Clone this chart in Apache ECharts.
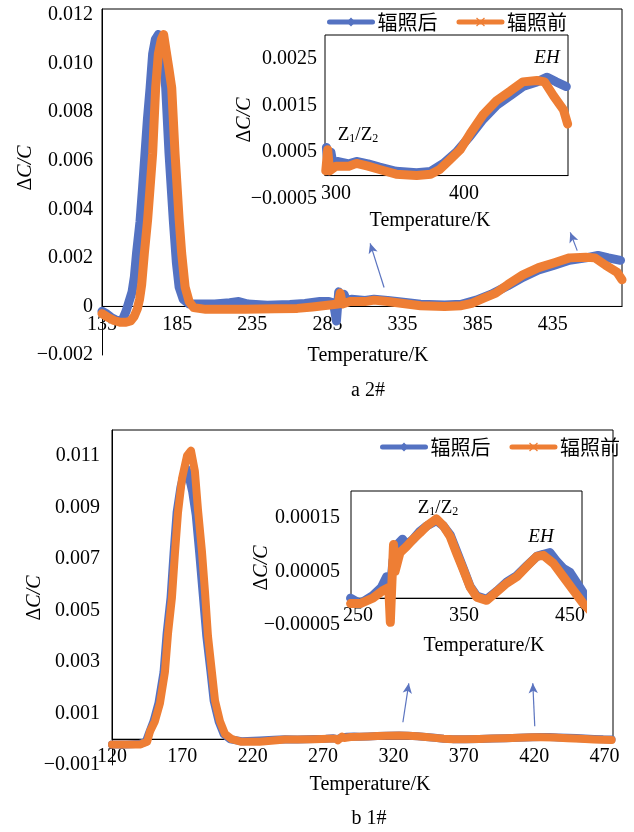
<!DOCTYPE html>
<html>
<head>
<meta charset="utf-8">
<title>ΔC/C - Temperature</title>
<style>
  html, body { margin: 0; padding: 0; background: #fff; }
  #main { width: 634px; height: 832px; }
</style>
<script src="https://cdn.jsdelivr.net/npm/echarts@6/dist/echarts.min.js"></script>
</head>
<body>
<div id="main"></div>
<script>
// ---- data: sample 2# (panel a) ----
var a2TempAfter = [135,138,141,144,147,149,151,153,155,156.5,158,160.3,162,163.6,165.2,167,168.7,170.5,172.5,174,175.5,177.4,179.6,182.5,184.5,186.3,189,193,200,210,220,226,232,245,260,270,280,286,289,291,292.5,294,296,298,301,310,316,325,334,347,363,374,384,394,405,415,425.5,436,446,457,465,472,480];
var a2After = [-0.0002,-0.0003,-0.00045,-0.00055,-0.0006,-0.0005,-0.0002,0.0002,0.0006,0.0012,0.0022,0.0035,0.0049,0.0063,0.0077,0.009,0.0104,0.011,0.0112,0.0108,0.0103,0.009,0.0063,0.0035,0.0018,0.0008,0.0003,0.0001,0.0001,0.0001,0.00015,0.0002,0.0001,0.00005,0.00008,0.00012,0.0002,0.0002,0.00015,-0.0006,0.0006,0.0001,0.0005,0.0002,0.0003,0.00025,0.0003,0.00025,0.00018,0.00009,0.00006,0.00009,0.00026,0.0005,0.00085,0.0012,0.0015,0.0017,0.0019,0.002,0.0021,0.002,0.0019];
var a2TempBefore = [135,139,143,147,151,154,156.5,158.5,160,161.4,163.2,165.4,167,168.7,170.7,172.5,174.5,176,177.5,179.5,181.4,183.6,186.3,188,190.3,193,196,204,215,230,250,265,275,285,292,293.5,295,300,310,316,325,334,347,363,374,381,389,397,405,415,425.5,436,446,457,463,470,477.8,481];
var a2Before = [-0.0003,-0.00045,-0.00058,-0.00065,-0.00065,-0.0006,-0.0004,-0.0001,0.0003,0.0009,0.0022,0.0036,0.0049,0.0063,0.009,0.0104,0.011,0.0112,0.0106,0.0098,0.009,0.0063,0.0036,0.0022,0.0008,0.0002,-0.00005,-0.00012,-0.00012,-0.00012,-0.0001,-0.00008,-0.00002,0.00005,0.0001,0.00055,0.0001,0.0002,0.0002,0.00026,0.0002,0.00013,0.00003,0,0.00003,0.00013,0.00034,0.00055,0.0009,0.0013,0.0016,0.0018,0.002,0.00203,0.002,0.0017,0.0014,0.0011];

// ---- data: sample 1# (panel b) ----
var b1TempAfter = [120,130,140,144,146,149.5,153,156.6,158.8,161.6,163.7,165.9,168.7,171.5,173,174.5,177,179.5,182,184.5,187,190,192.2,195.7,199.3,204,212,225,235,243,252,264,272,277,280,283,287,292,296,302,308.5,315,324,330.5,337,343,349.4,355.7,362,371.4,380.8,390.3,399.7,409,418.6,424.8,431,437,444,450,456,462.5,469,475];
var b1After = [-0.0002,-0.0002,-0.00018,-0.0001,0.0002,0.0007,0.0014,0.0026,0.0041,0.0055,0.0072,0.0088,0.0098,0.0104,0.0105,0.0102,0.0096,0.0087,0.0072,0.0056,0.004,0.0026,0.0015,0.0007,0.0002,0,-0.00008,-0.00005,-0.00002,0,-0.00001,0.000005,0.00002,0.00004,0.000005,0.00007,0.0001,0.00011,0.0001,0.00011,0.000125,0.000135,0.000145,0.000135,0.000118,0.000088,0.000055,0.000022,0.000004,-0.000002,0.000013,0.00003,0.000042,0.00006,0.000078,0.000082,0.000085,0.00007,0.000055,0.000048,0.00003,0.00001,-0.000005,-0.00001];
var b1TempBefore = [120,130,140,145,147,150.5,154.1,157.6,159.8,162.6,164.7,166.9,169.7,173.3,176.1,178.9,181.1,183.9,186.1,188.2,191,193.2,196.7,200.3,205.2,212,225,235,243,252,264,274,279,280.5,282,283.5,285,289.6,296,302,308.5,315,324,330.5,337,343,349.4,355.7,362,371.4,380.8,390.3,399.7,409,418.6,424.8,434.3,443.7,453,462.5,469,475];
var b1Before = [-0.0002,-0.0002,-0.0002,-0.0001,0.0003,0.0007,0.0014,0.0026,0.0041,0.0055,0.0072,0.0088,0.0101,0.011,0.0112,0.0104,0.0089,0.0073,0.0057,0.004,0.0026,0.0015,0.0007,0.0002,0,-0.0001,-0.0001,-0.00005,-0.00001,-0.00001,0,0.000015,0.00002,-0.000045,0.00003,0.0001,0.00005,0.000085,0.000097,0.00011,0.000122,0.000135,0.000148,0.000135,0.000115,0.000084,0.000053,0.000021,0.000002,-0.000004,0.000012,0.000028,0.00004,0.000059,0.000078,0.00008,0.000065,0.00004,0.000015,-0.00001,-0.000023,-0.00003];

// ---- tick labels ----
var a2XTicks = [135,185,235,285,335,385,435];
var a2YTicks = [-0.002,0,0.002,0.004,0.006,0.008,0.010,0.012];
var a2InsetXTicks = [300,400];
var a2InsetYTicks = [-0.0005,0.0005,0.0015,0.0025];
var b1XTicks = [120,170,220,270,320,370,420,470];
var b1YTicks = [-0.001,0.001,0.003,0.005,0.007,0.009,0.011];
var b1InsetXTicks = [250,350,450];
var b1InsetYTicks = [-0.00005,0.00005,0.00015];

// arrows pointing from the main curves to the insets [fromT, fromV, toT, toV]
var a2Arrows = [[322.7,0.00078,313.4,0.0026],[451.2,0.0023,446.6,0.00305]];
var b1Arrows = [[326.7,0.00066,330.9,0.00217],[420.4,0.0005,419,0.00217]];

var BLUE = '#5472c2';
var ORANGE = '#ee7e34';
var FONT = 'Liberation Serif';
var CJK = 'Noto Sans CJK SC';
var XMARK = 'path://M0,1L1,0L5,4L9,0L10,1L6,5L10,9L9,10L5,6L1,10L0,9L4,5Z';

function pairs(ts, vs) { return ts.map(function (t, i) { return [t, vs[i]]; }); }
function within(d, lo, hi) { return d.filter(function (p) { return p[0] >= lo && p[0] <= hi; }); }
function fmt(dec) {
  return function (v) {
    if (Math.abs(v) < 1e-12) return '0';
    return (v < 0 ? '\u2212' : '') + Math.abs(v).toFixed(dec);
  };
}

// grids (pixel boxes) and axis ranges
var grids = [
  { left: 102, top: 9,   width: 520, height: 346 },
  { left: 325, top: 35,  width: 243, height: 164 },
  { left: 112, top: 430, width: 501, height: 335 },
  { left: 351, top: 491, width: 231, height: 134 }
];
var ax = [
  { x: [135, 481],     y: [-0.002, 0.01225] },
  { x: [291.4, 481.3], y: [-0.0005, 0.003] },
  { x: [120, 476],     y: [-0.001, 0.012] },
  { x: [243.4, 461.3], y: [-0.00005, 0.0002] }
];

// the x axis is drawn on the zero line, labels just below it
function xAxis(i, ticks) {
  var r = ax[i];
  var zeroUp = grids[i].height * (0 - r.y[0]) / (r.y[1] - r.y[0]);
  return {
    type: 'value', gridIndex: i, min: r.x[0], max: r.x[1], offset: -zeroUp,
    axisLine: { show: true, onZero: false, lineStyle: { color: '#000', width: 1 } },
    axisTick: { show: false }, splitLine: { show: false },
    axisLabel: { customValues: ticks, margin: 8, color: '#000', fontFamily: FONT, fontSize: 20 }
  };
}
function yAxis(i, ticks, dec, showLine, margin) {
  var r = ax[i];
  return {
    type: 'value', gridIndex: i, min: r.y[0], max: r.y[1],
    axisLine: { show: showLine, onZero: false, lineStyle: { color: '#000', width: 1 } },
    axisTick: { show: false }, splitLine: { show: false },
    axisLabel: { customValues: ticks, formatter: fmt(dec), margin: margin, color: '#000', fontFamily: FONT, fontSize: 20 }
  };
}
function frame(r) {
  return {
    silent: true,
    itemStyle: { color: 'rgba(0,0,0,0)', borderColor: '#000', borderWidth: 1 },
    data: [[{ coord: [r.x[0], 0] }, { coord: [r.x[1], r.y[1]] }]]
  };
}
function arrows(list) {
  return {
    silent: true, symbol: ['none', 'arrow'], symbolSize: [7, 10], label: { show: false },
    lineStyle: { color: '#5b74c0', width: 1.2, type: 'solid' },
    data: list.map(function (a) { return [{ coord: [a[0], a[1]] }, { coord: [a[2], a[3]] }]; })
  };
}
function line(name, grid, data, color, width, extra) {
  var s = {
    name: name, type: 'line', xAxisIndex: grid, yAxisIndex: grid, data: data,
    showSymbol: false, symbol: name === '辐照后' ? 'diamond' : XMARK,
    symbolSize: name === '辐照后' ? 11 : 8,
    itemStyle: { color: color },
    lineStyle: { color: color, width: width, join: 'round', cap: 'round' },
    clip: false, animation: false
  };
  for (var k in extra) s[k] = extra[k];
  return s;
}

var yTitle = '{d|Δ}{c|C/C}';
var yTitleRich = {
  d: { fontFamily: FONT, fontSize: 20, fill: '#000' },
  c: { fontFamily: FONT, fontSize: 20, fontStyle: 'italic', fill: '#000' }
};
var zRich = {
  z: { fontFamily: FONT, fontSize: 19, lineHeight: 20, fill: '#000' },
  s: { fontFamily: FONT, fontSize: 12, lineHeight: 20, verticalAlign: 'bottom', fill: '#000' }
};
function txt(x, y, text, opts) {
  var st = { text: text, x: 0, y: 0, align: 'center', verticalAlign: 'middle', fill: '#000', fontFamily: FONT, fontSize: 20 };
  var rot = 0;
  for (var k in (opts || {})) { if (k === 'rot') rot = opts[k]; else st[k] = opts[k]; }
  return { type: 'text', x: x, y: y, rotation: rot, style: st, silent: true };
}

var a2AfterData = pairs(a2TempAfter, a2After);
var a2BeforeData = pairs(a2TempBefore, a2Before);
var b1AfterData = pairs(b1TempAfter, b1After);
var b1BeforeData = pairs(b1TempBefore, b1Before);

var legendBase = {
  data: ['辐照后', '辐照前'], padding: 0, itemWidth: 43, itemHeight: 11, itemGap: 19,
  lineStyle: { width: 5 }, textStyle: { fontFamily: CJK, fontSize: 20, color: '#000' }
};

var chart = echarts.init(document.getElementById('main'), null, { renderer: 'canvas' });
chart.setOption({
  animation: false,
  backgroundColor: '#fff',
  grid: grids.map(function (g) {
    return { left: g.left, top: g.top, width: g.width, height: g.height, outerBoundsMode: 'none' };
  }),
  legend: [
    Object.assign({}, legendBase, { left: 327, top: 12 }),
    Object.assign({}, legendBase, { left: 380, top: 437 })
  ],
  xAxis: [
    xAxis(0, a2XTicks),
    xAxis(1, a2InsetXTicks),
    xAxis(2, b1XTicks),
    xAxis(3, b1InsetXTicks)
  ],
  yAxis: [
    yAxis(0, a2YTicks, 3, true, 9),
    yAxis(1, a2InsetYTicks, 4, false, 8),
    yAxis(2, b1YTicks, 3, true, 12),
    yAxis(3, b1InsetYTicks, 5, false, 11)
  ],
  series: [
    line('辐照后', 0, a2AfterData, BLUE, 9, { markArea: frame(ax[0]) }),
    line('辐照前', 0, a2BeforeData, ORANGE, 9, { markLine: arrows(a2Arrows) }),
    line('辐照后', 1, within(a2AfterData, 292, 482), BLUE, 9, { markArea: frame(ax[1]) }),
    line('辐照前', 1, within(a2BeforeData, 292, 482), ORANGE, 9),
    line('辐照后', 2, b1AfterData, BLUE, 8, { markArea: frame(ax[2]) }),
    line('辐照前', 2, b1BeforeData, ORANGE, 8, { markLine: arrows(b1Arrows) }),
    line('辐照后', 3, within(b1AfterData, 243, 470), BLUE, 9, { markArea: frame(ax[3]) }),
    line('辐照前', 3, within(b1BeforeData, 243, 470), ORANGE, 9)
  ],
  graphic: [
    txt(26, 168, yTitle, { rich: yTitleRich, rot: Math.PI / 2 }),
    txt(245, 120, yTitle, { rich: yTitleRich, rot: Math.PI / 2 }),
    txt(35, 598, yTitle, { rich: yTitleRich, rot: Math.PI / 2 }),
    txt(262, 568, yTitle, { rich: yTitleRich, rot: Math.PI / 2 }),
    txt(368, 356, 'Temperature/K'),
    txt(430, 221, 'Temperature/K'),
    txt(370, 785, 'Temperature/K'),
    txt(484, 646, 'Temperature/K'),
    txt(368, 391, 'a 2#'),
    txt(369, 819, 'b 1#'),
    txt(358, 135, '{z|Z}{s|1}{z|/Z}{s|2}', { rich: zRich }),
    txt(438, 508, '{z|Z}{s|1}{z|/Z}{s|2}', { rich: zRich }),
    txt(547, 58, 'EH', { fontStyle: 'italic', fontSize: 19 }),
    txt(541, 537, 'EH', { fontStyle: 'italic', fontSize: 19 })
  ]
});
</script>
</body>
</html>
